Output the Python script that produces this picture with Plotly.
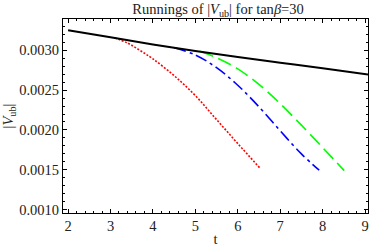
import plotly.graph_objects as go

# Data
t_black = [2.0, 3.0, 4.0, 5.0, 6.0, 7.0, 8.0, 9.07]
v_black = [0.003250, 0.003160, 0.003072, 0.002990, 0.002915, 0.002843, 0.002772, 0.002696]

t_red = [3.1, 3.4, 3.7, 4.0, 4.5, 5.0, 5.5, 6.0, 6.525]
v_red = [0.003152, 0.003090, 0.002995, 0.002890, 0.002680, 0.002430, 0.002130, 0.001830, 0.001521]

t_blue = [4.5, 5.0, 5.5, 6.0, 6.5, 7.0, 7.5, 7.92]
v_blue = [0.003030, 0.002940, 0.002780, 0.002560, 0.002290, 0.001990, 0.001700, 0.001496]

t_green = [5.1, 5.5, 6.0, 6.5, 7.0, 7.5, 8.0, 8.51]
v_green = [0.002985, 0.002905, 0.002765, 0.002570, 0.002330, 0.002060, 0.001780, 0.001491]

x_ticks = [2, 3, 4, 5, 6, 7, 8, 9]
y_ticks = [0.0010, 0.0015, 0.0020, 0.0025, 0.0030]
y_tick_labels = ["0.0010", "0.0015", "0.0020", "0.0025", "0.0030"]

FONT = "Liberation Serif"
FS = 14.5

fig = go.Figure()
fig.add_trace(go.Scatter(x=t_red, y=v_red, mode="lines",
                         line=dict(color="#FF0000", width=1.6, dash="2px,1.6px", shape="spline")))
fig.add_trace(go.Scatter(x=t_blue, y=v_blue, mode="lines",
                         line=dict(color="#0000FF", width=1.6, dash="12px,4px,3px,4px", shape="spline")))
fig.add_trace(go.Scatter(x=t_green, y=v_green, mode="lines",
                         line=dict(color="#00FF00", width=1.6, dash="14px,6px", shape="spline")))
fig.add_trace(go.Scatter(x=t_black, y=v_black, mode="lines",
                         line=dict(color="#000000", width=2, shape="spline")))

axis_common = dict(
    showgrid=False, zeroline=False, showline=True, linecolor="black", linewidth=1,
    mirror="ticks", ticks="inside", ticklen=4, tickwidth=1, tickcolor="black",
    tickfont=dict(family=FONT, size=FS, color="#222"), automargin=False,
)

fig.update_xaxes(
    range=[1.88, 9.07], tickvals=x_ticks, ticktext=[str(v) for v in x_ticks],
    minor=dict(ticks="inside", ticklen=2, tickwidth=1, tickcolor="black", dtick=0.2, tick0=2),
    title=dict(text="t", font=dict(family=FONT, size=FS, color="#222"), standoff=4),
    **axis_common,
)
fig.update_yaxes(
    range=[0.00096, 0.00339], tickvals=y_ticks, ticktext=y_tick_labels,
    minor=dict(ticks="inside", ticklen=2, tickwidth=1, tickcolor="black", dtick=0.0001, tick0=0.001),
    title=dict(text="|<i>V</i><sub>ub</sub>|", font=dict(family=FONT, size=FS, color="#222"), standoff=2),
    **axis_common,
)

fig.update_layout(
    width=374, height=247,
    margin=dict(l=63, r=6, t=19, b=34, autoexpand=False),
    paper_bgcolor="white", plot_bgcolor="white",
    showlegend=False,
    title=dict(text="Runnings of |<i>V</i><sub>ub</sub>| for tan<i>β</i>=30",
               font=dict(family=FONT, size=FS, color="#222"),
               x=0.583, xanchor="center", y=0.985, yanchor="top"),
)

fig.write_html("out.html",
               config={"displayModeBar": False, "staticPlot": True},
               post_script="document.body.style.margin='0';document.body.style.padding='0';")
